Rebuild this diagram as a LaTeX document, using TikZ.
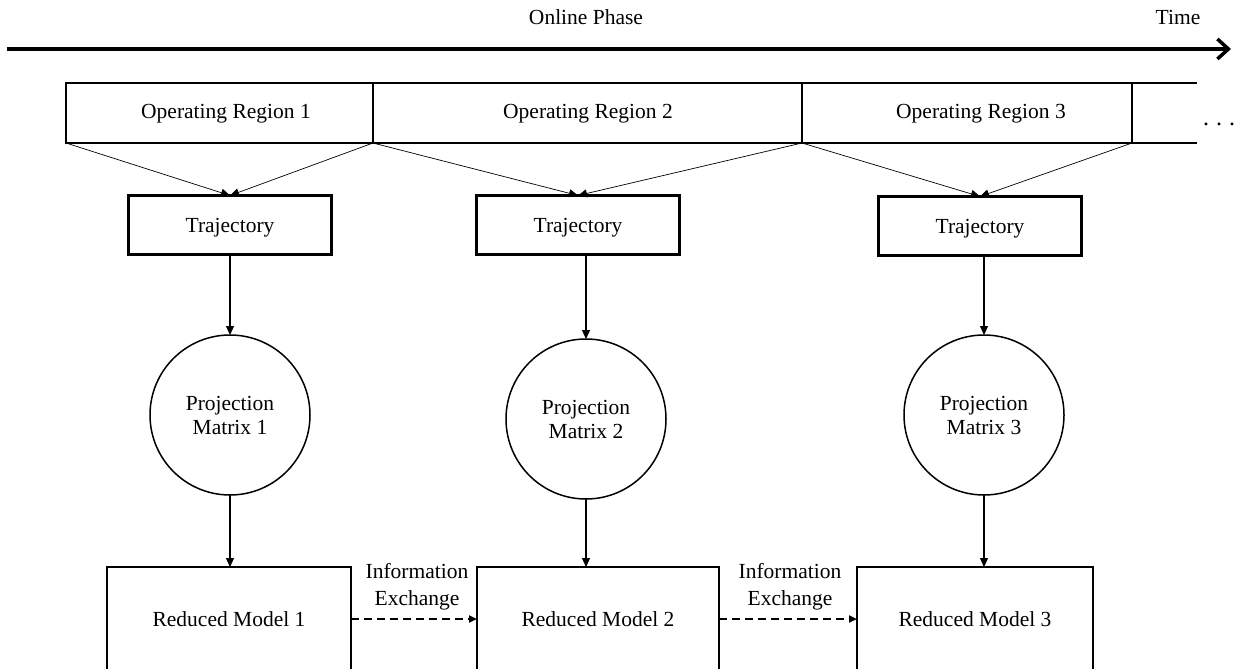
\documentclass[tikz,border=0pt]{standalone}
\usepackage{fontspec}
\setmainfont{Liberation Serif}
\usetikzlibrary{arrows.meta}
\begin{document}
\begin{tikzpicture}[x=1pt,y=-1pt,
  every node/.style={font=\fontsize{21.5pt}{25pt}\selectfont, inner sep=0pt, outer sep=0pt},
  region/.style={draw, line width=1.4pt, rectangle, minimum height=60pt},
  traj/.style={draw, line width=2.6pt, rectangle, minimum width=203pt, minimum height=59pt, text depth=0pt},
  proj/.style={draw, line width=1.5pt, circle, minimum size=160pt, align=center},
  red/.style={draw, line width=1.5pt, rectangle, minimum height=104pt},
  arr/.style={line width=1.1pt, -{Triangle[length=9pt,width=8pt]}},
  thin/.style={line width=0.7pt, -{Triangle[length=9pt,width=8pt]}},
  ie/.style={line width=2pt, dash pattern=on 8pt off 5pt, -{Triangle[length=8pt,width=7pt]}},
  lbl/.style={align=center}]
\useasboundingbox (0,0) rectangle (1239,669);
% time axis
\coordinate (t0) at (7,49);
\coordinate (t1) at (1231,49);
\draw[line width=3.5pt, -{Straight Barb[length=11pt,width=20pt,line width=3.5pt]}] (t0) -- (t1);
\node (online) at (586,17) {Online Phase};
\node (time) at (1178,17) {Time};
% regions
\node[region, minimum width=307pt] (reg1) at (219.5,113) {};
\node[region, minimum width=429pt] (reg2) at (587.5,113) {};
\node[region, minimum width=330pt] (reg3) at (967,113) {};
\coordinate (r4t) at (1197,83);
\coordinate (r4b) at (1197,143);
\draw[line width=1.4pt] (reg3.north east) -- (r4t);
\draw[line width=1.4pt] (reg3.south east) -- (r4b);
\node (reg1t) at (226,114) {Operating Region 1};
\node (reg2t) at (588,114) {Operating Region 2};
\node (reg3t) at (981,114) {Operating Region 3};
\node[anchor=base] (dots) at (1219,125) {\fontsize{24pt}{28pt}\selectfont .\hspace{7pt}.\hspace{7pt}.};
% trajectories
\node[traj] (traj1) at (230,225) {Trajectory};
\node[traj] (traj2) at (578,225) {Trajectory};
\node[traj] (traj3) at (980,226) {Trajectory};
\draw[thin] (reg1.south west) -- (traj1.north);
\draw[thin] (reg1.south east) -- (traj1.north);
\draw[thin] (reg2.south west) -- (traj2.north);
\draw[thin] (reg2.south east) -- (traj2.north);
\draw[thin] (reg3.south west) -- (traj3.north);
\draw[thin] (reg3.south east) -- (traj3.north);
% projection matrices
\node[proj] (proj1) at (230,415) {Projection\\[-1pt]Matrix 1};
\node[proj] (proj2) at (586,419) {Projection\\[-1pt]Matrix 2};
\node[proj] (proj3) at (984,415) {Projection\\[-1pt]Matrix 3};
\draw[arr] (proj1.north |- traj1.south) -- (proj1.north);
\draw[arr] (proj2.north |- traj2.south) -- (proj2.north);
\draw[arr] (proj3.north |- traj3.south) -- (proj3.north);
% reduced models
\node[red, minimum width=244pt] (red1) at (229,619) {Reduced Model 1};
\node[red, minimum width=242pt] (red2) at (598,619) {Reduced Model 2};
\node[red, minimum width=236pt] (red3) at (975,619) {Reduced Model 3};
\draw[arr] (proj1.south) -- (proj1.south |- red1.north);
\draw[arr] (proj2.south) -- (proj2.south |- red2.north);
\draw[arr] (proj3.south) -- (proj3.south |- red3.north);
\draw[ie] (red1.east) -- (red2.west);
\draw[ie] (red2.east) -- (red3.west);
\node[lbl] (ie1) at (417,587) {Information\\[2pt]Exchange};
\node[lbl] (ie2) at (790,587) {Information\\[2pt]Exchange};
\end{tikzpicture}
\end{document}
